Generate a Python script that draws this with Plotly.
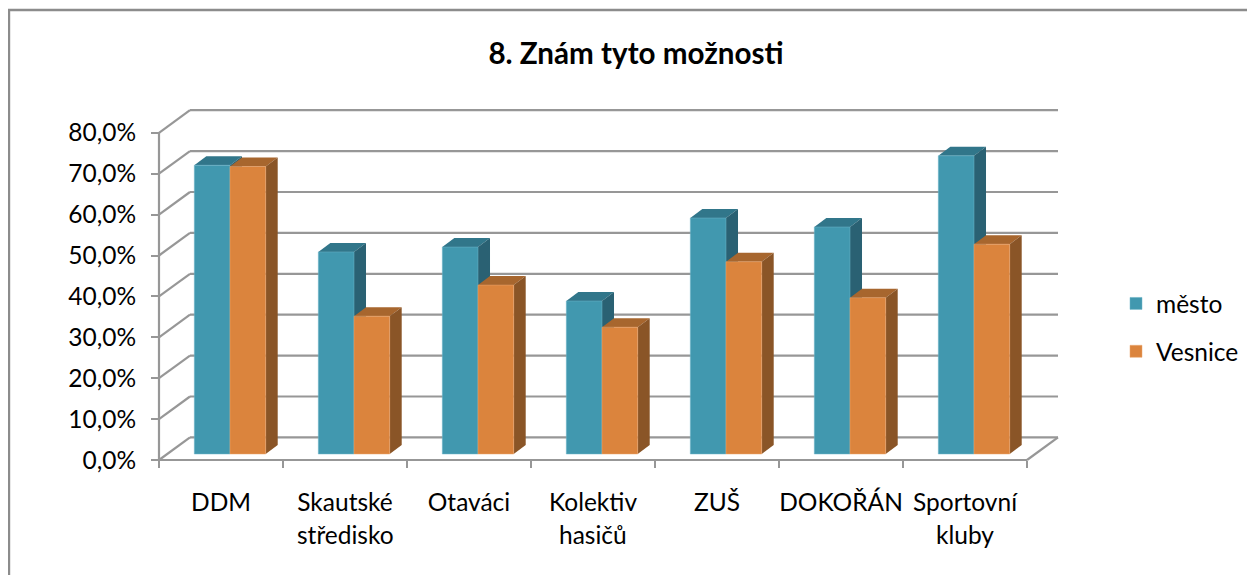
import plotly.graph_objects as go

categories_line1 = ["DDM", "Skautské", "Otaváci", "Kolektiv", "ZUŠ", "DOKOŘÁN", "Sportovní"]
categories_line2 = ["", "středisko", "", "hasičů", "", "", "kluby"]
mesto = [70.6, 49.4, 50.6, 37.4, 57.7, 55.5, 72.9]
vesnice = [70.3, 33.7, 41.3, 31.0, 47.0, 38.2, 51.3]
y_ticks = [0, 10, 20, 30, 40, 50, 60, 70, 80]
y_tick_labels = ["0,0%", "10,0%", "20,0%", "30,0%", "40,0%", "50,0%", "60,0%", "70,0%", "80,0%"]

# the page keeps an 8px body margin, so the figure is 8px smaller and coordinates shift by 8
PAGE = 8
W, H = 1255 - PAGE, 575 - PAGE
X0, PX_CAT = 159.0 - PAGE, 124.0
Y0, PX_UNIT = 460.0 - PAGE, 4.09

GRID = "#979797"
TEAL, TEAL_TOP, TEAL_SIDE = "#4198AF", "#31768A", "#2A6173"
ORANGE, ORANGE_TOP, ORANGE_SIDE = "#DB843D", "#A7662E", "#8A5527"

BACK_DX, BACK_DY = 31 / PX_CAT, 22.6 / PX_UNIT
BAR_DX, BAR_DY = 12 / PX_CAT, 9 / PX_UNIT
BAR_W = 35.7 / PX_CAT
BASE = 6 / PX_UNIT
CENTER_SHIFT = 9 / PX_CAT
n = len(mesto)

shapes = []


def line(x0, y0, x1, y1):
    shapes.append(dict(type="line", xref="x", yref="y", x0=x0, y0=y0, x1=x1, y1=y1,
                       line=dict(color=GRID, width=2.2), layer="below"))


for v in y_ticks:
    line(BACK_DX, v + BACK_DY, n + BACK_DX, v + BACK_DY)
    line(0, v, BACK_DX, v + BACK_DY)
line(0, 0, 0, y_ticks[-1])
line(0, 0, n, 0)
line(n, 0, n + BACK_DX, BACK_DY)


def poly(pts, color):
    d = "M" + "L".join(f"{x:.4f},{y:.4f}" for x, y in pts) + "Z"
    shapes.append(dict(type="path", xref="x", yref="y", path=d, fillcolor=color,
                       line=dict(width=0), layer="below"))


xm = [i + 0.5 + CENTER_SHIFT - BAR_W / 2 for i in range(n)]
xv = [i + 0.5 + CENTER_SHIFT + BAR_W / 2 for i in range(n)]

for xs, vals, top_c, side_c in ((xm, mesto, TEAL_TOP, TEAL_SIDE), (xv, vesnice, ORANGE_TOP, ORANGE_SIDE)):
    for x, v in zip(xs, vals):
        a, b = x - BAR_W / 2, x + BAR_W / 2
        t = BASE + v
        poly([(a, t), (a + BAR_DX, t + BAR_DY), (b + BAR_DX, t + BAR_DY), (b, t)], top_c)
        poly([(b, BASE), (b + BAR_DX, BASE + BAR_DY), (b + BAR_DX, t + BAR_DY), (b, t)], side_c)

# chart border (top and left only)
BX, BY = 9 - PAGE, 10 - PAGE
shapes.append(dict(type="path", xref="paper", yref="paper",
                   path=f"M{BX/W},0L{BX/W},{1-BY/H}L1,{1-BY/H}",
                   line=dict(color="#8C8C8C", width=2.4), layer="below"))

fig = go.Figure()
fig.add_bar(name="město", x=xm, y=mesto, base=BASE, width=BAR_W, legendgroup="město",
            marker=dict(color=TEAL, line=dict(color="#6FB4C8", width=0.5)))
fig.add_bar(name="Vesnice", x=xv, y=vesnice, base=BASE, width=BAR_W, legendgroup="Vesnice",
            marker=dict(color=ORANGE, line=dict(color="#E8A56E", width=0.5)))

FONT = "Lato, sans-serif"
FS = 24.5
annotations = []
for i, t in enumerate(categories_line2):
    if t:
        annotations.append(dict(x=i + 0.5, y=(Y0 - (534 - PAGE)) / PX_UNIT, xref="x", yref="y", text=t,
                                showarrow=False, font=dict(family=FONT, size=FS, color="#000000"),
                                xanchor="center", yanchor="middle"))

fig.update_layout(
    width=W, height=H, autosize=False,
    margin=dict(l=0, r=0, t=0, b=0),
    paper_bgcolor="white", plot_bgcolor="white",
    barmode="overlay",
    font=dict(family=FONT, size=FS, color="#000000"),
    title=dict(text="<b>8. Znám tyto možnosti</b>", x=(636 - PAGE) / W, xanchor="center",
               y=1 - (54 - PAGE) / H, yanchor="middle",
               font=dict(family=FONT, size=29.6, color="#000000")),
    xaxis=dict(range=[-X0 / PX_CAT, (W - X0) / PX_CAT], anchor="free", position=(H - Y0) / H,
               tickmode="array", tickvals=[i + 0.5 for i in range(n)], ticktext=categories_line1,
               ticks="", showgrid=False, zeroline=False, showline=False, ticklabelstandoff=25,
               minor=dict(tickmode="array", tickvals=list(range(n + 1)), ticks="outside", ticklen=7,
                          tickwidth=2, tickcolor=GRID, showgrid=False)),
    yaxis=dict(range=[(Y0 - H) / PX_UNIT, Y0 / PX_UNIT], anchor="free", position=X0 / W,
               tickmode="array", tickvals=y_ticks, ticktext=y_tick_labels,
               ticks="outside", ticklen=8, tickwidth=2, tickcolor=GRID, showgrid=False, zeroline=False,
               showline=False, ticklabelstandoff=10),
    legend=dict(x=(1116 - PAGE) / W, y=1 - (281 - PAGE) / H, xanchor="left", yanchor="top", tracegroupgap=13,
                font=dict(family=FONT, size=FS), bgcolor="rgba(0,0,0,0)"),
    shapes=shapes, annotations=annotations,
)

fig.write_html("out.html")
